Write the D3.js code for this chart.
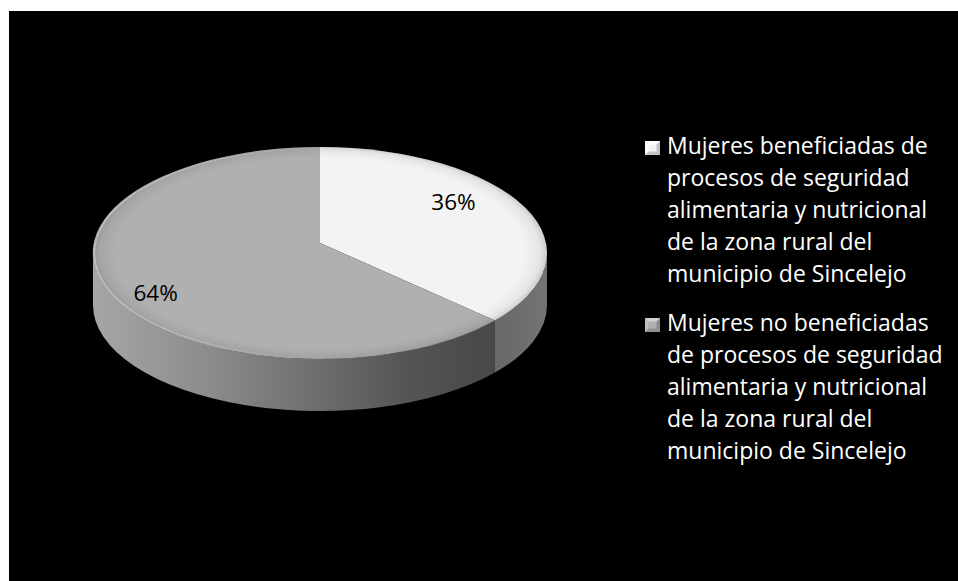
<!DOCTYPE html>
<html lang="es">
<head>
<meta charset="utf-8">
<script src="https://d3js.org/d3.v7.min.js"></script>
<style>
  body { margin: 0; background: #fff; }
  svg { display: block; }
</style>
</head>
<body>
<div id="chart"></div>
<script>
// data
const categories = [
  "Mujeres beneficiadas de procesos de seguridad alimentaria y nutricional de la zona rural del municipio de Sincelejo",
  "Mujeres no beneficiadas de procesos de seguridad alimentaria y nutricional de la zona rural del municipio de Sincelejo"
]
const values = [36, 64]
const legendLines = [
  ["Mujeres beneficiadas de", "procesos de seguridad", "alimentaria y nutricional", "de la zona rural del", "municipio de Sincelejo"],
  ["Mujeres no beneficiadas", "de procesos de seguridad", "alimentaria y nutricional", "de la zona rural del", "municipio de Sincelejo"]
]
const topColors = ["#f3f3f3", "#b0b0b0"]

const width = 958
const height = 581

// pie geometry (flattened ellipse, Excel-like 3D look)
const cx = 320, cy = 253, rx = 227, ry = 106, depth = 52
const apex = [320, 243]
// label placement factors (x, y) per slice, relative to apex
const labelFactors = [[0.65, 0.92], [0.80, 1.10]]

const svg = d3.select("#chart").append("svg")
    .attr("width", width)
    .attr("height", height)

svg.append("rect")
    .attr("x", 9).attr("y", 11)
    .attr("width", width - 9).attr("height", height - 11)
    .attr("fill", "#000")

const defs = svg.append("defs")

// side gradients
const sideGray = defs.append("linearGradient")
    .attr("id", "sideGray")
    .attr("gradientUnits", "userSpaceOnUse")
    .attr("x1", cx - rx).attr("x2", cx + rx).attr("y1", 0).attr("y2", 0)
sideGray.selectAll("stop")
    .data([[0, "#a6a6a6"], [0.25, "#8c8c8c"], [0.5, "#6c6c6c"], [0.72, "#525252"], [0.9, "#474747"], [1, "#474747"]])
    .enter().append("stop")
    .attr("offset", d => d[0]).attr("stop-color", d => d[1])

const sideLight = defs.append("linearGradient")
    .attr("id", "sideLight")
    .attr("gradientUnits", "userSpaceOnUse")
    .attr("x1", cx + rx * 0.8).attr("x2", cx + rx).attr("y1", 0).attr("y2", 0)
sideLight.selectAll("stop")
    .data([[0, "#696969"], [1, "#747474"]])
    .enter().append("stop")
    .attr("offset", d => d[0]).attr("stop-color", d => d[1])

const sideFills = ["url(#sideLight)", "url(#sideGray)"]

// bevel overlay
const bevel = defs.append("radialGradient").attr("id", "bevel")
bevel.selectAll("stop")
    .data([[0, "#000", 0], [0.9, "#000", 0], [0.97, "#000", 0.06], [1, "#000", 0.16]])
    .enter().append("stop")
    .attr("offset", d => d[0]).attr("stop-color", d => d[1]).attr("stop-opacity", d => d[2])

const rimLight = defs.append("linearGradient").attr("id", "rimLight")
    .attr("x1", 0).attr("x2", 1).attr("y1", 0).attr("y2", 0)
rimLight.selectAll("stop")
    .data([[0, "#fff", 0.35], [0.45, "#fff", 0.1], [1, "#fff", 0]])
    .enter().append("stop")
    .attr("offset", d => d[0]).attr("stop-color", d => d[1]).attr("stop-opacity", d => d[2])

const pie = d3.pie().sort(null).startAngle(0).endAngle(2 * Math.PI)
const arcs = pie(values)

const pt = (a, dy = 0) => [cx + rx * Math.sin(a), cy - ry * Math.cos(a) + dy]

// sides: only the front half (angles between PI/2 and 3PI/2) can be seen
const g = svg.append("g")
g.selectAll("path.side")
    .data(arcs)
    .enter().append("path")
    .attr("class", "side")
    .attr("fill", (d, i) => sideFills[i])
    .attr("d", d => {
        const a0 = Math.max(d.startAngle, Math.PI / 2)
        const a1 = Math.min(d.endAngle, 3 * Math.PI / 2)
        if (a1 <= a0) return null
        const p0 = pt(a0), p1 = pt(a1), q1 = pt(a1, depth), q0 = pt(a0, depth)
        const large = (a1 - a0) > Math.PI ? 1 : 0
        return `M${p0}A${rx},${ry} 0 ${large} 1 ${p1}L${q1}A${rx},${ry} 0 ${large} 0 ${q0}Z`
    })

// top faces
g.selectAll("path.top")
    .data(arcs)
    .enter().append("path")
    .attr("class", "top")
    .attr("fill", (d, i) => topColors[i])
    .attr("d", d => {
        const p0 = pt(d.startAngle), p1 = pt(d.endAngle)
        const large = (d.endAngle - d.startAngle) > Math.PI ? 1 : 0
        return `M${apex}L${p0}A${rx},${ry} 0 ${large} 1 ${p1}Z`
    })

g.append("ellipse")
    .attr("cx", cx).attr("cy", cy).attr("rx", rx).attr("ry", ry)
    .attr("fill", "url(#bevel)")
g.append("ellipse")
    .attr("cx", cx).attr("cy", cy).attr("rx", rx - 1).attr("ry", ry - 1)
    .attr("fill", "none")
    .attr("stroke", "url(#rimLight)")
    .attr("stroke-width", 2.5)

// percentage labels
const total = d3.sum(values)
g.selectAll("text.pct")
    .data(arcs)
    .enter().append("text")
    .attr("class", "pct")
    .attr("x", (d, i) => apex[0] + rx * labelFactors[i][0] * Math.sin((d.startAngle + d.endAngle) / 2))
    .attr("y", (d, i) => apex[1] - ry * labelFactors[i][1] * Math.cos((d.startAngle + d.endAngle) / 2))
    .attr("dy", "0.36em")
    .attr("text-anchor", "middle")
    .style("font-family", "'Open Sans', sans-serif")
    .style("font-size", "22.5px")
    .attr("fill", "#000")
    .text(d => Math.round(d.value / total * 100) + "%")

// legend
const lineH = 32, gap = 17
const legend = svg.append("g").attr("class", "legend")
let y = 154
legendLines.forEach((lines, i) => {
    const item = legend.append("g")
        .attr("transform", `translate(645,${y})`)
        .attr("aria-label", categories[i])
    const base = topColors[i]
    item.append("rect")
        .attr("x", 0).attr("y", -13).attr("width", 15).attr("height", 14)
        .attr("fill", d3.color(base).darker(0.6))
    item.append("path")
        .attr("d", "M0,-13L15,-13L11,-9L4,-9Z")
        .attr("fill", d3.color(base).brighter(0.5))
    item.append("path")
        .attr("d", "M0,-13L4,-9L4,-3L0,1Z")
        .attr("fill", d3.color(base).brighter(0.2))
    item.append("rect")
        .attr("x", 3.5).attr("y", -9.5).attr("width", 8).attr("height", 7)
        .attr("fill", base)
    item.selectAll("text")
        .data(lines)
        .enter().append("text")
        .attr("x", 22)
        .attr("y", (d, k) => k * lineH)
        .attr("fill", "#fff")
        .style("font-family", "'Open Sans', sans-serif")
        .style("font-size", "23px")
        .text(d => d)
    y += lines.length * lineH + gap
})
</script>
</body>
</html>
